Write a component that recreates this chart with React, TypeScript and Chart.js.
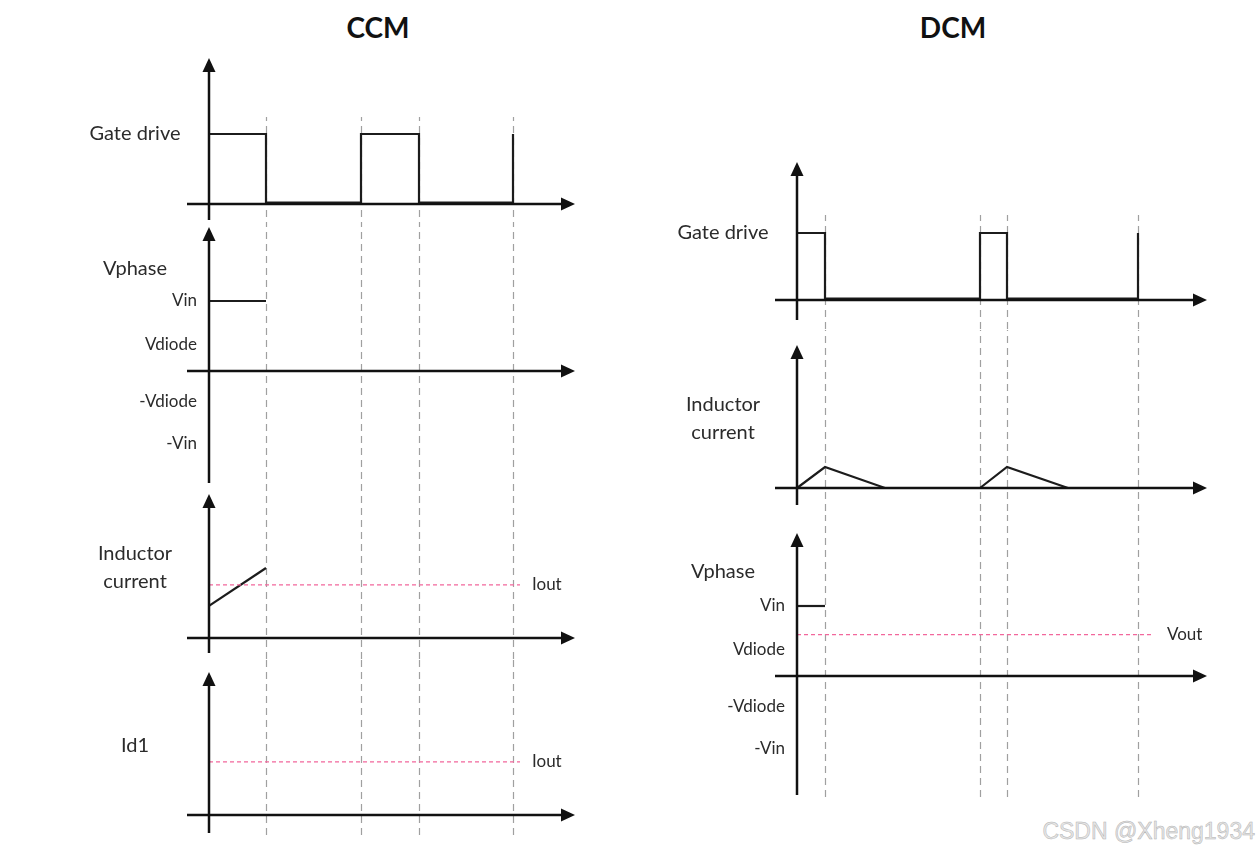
import React, { useEffect, useRef } from "react";
import { Chart, registerables } from "chart.js";

Chart.register(...registerables);

// ---------------- data (time in switching units, levels in signal units) ----------------
const ccmEdges = [0.57, 1.52, 2.1, 3.04];
const dcmEdges = [0.28, 1.83, 2.1, 3.41];

const ccmGateT = [0, 0.57, 0.57, 1.52, 1.52, 2.1, 2.1, 3.04, 3.04];
const ccmGateV = [1, 1, 0.02, 0.02, 1, 1, 0.02, 0.02, 1];
const ccmPhaseT = [0, 0.57];
const ccmPhaseV = [1, 1];
const ccmIndT = [0, 0.57];
const ccmIndV = [0.46, 1.0];
const ccmIoutT = [0, 3.11];
const ccmIoutV = [0.76, 0.76];
const ccmId1IoutT = [0, 3.11];
const ccmId1IoutV = [0.76, 0.76];

const dcmGateT = [0, 0.28, 0.28, 1.83, 1.83, 2.1, 2.1, 3.41, 3.41];
const dcmGateV = [1, 1, 0.02, 0.02, 1, 1, 0.02, 0.02, 1];
const dcmIndT = [0, 0.28, 0.88, 1.83, 2.1, 2.71];
const dcmIndV = [0, 0.3, 0, 0, 0.3, 0];
const dcmPhaseT = [0, 0.28];
const dcmPhaseV = [1, 1];
const dcmVoutT = [0, 3.55];
const dcmVoutV = [0.59, 0.59];

const phaseTickLabels = ["Vin", "Vdiode", "-Vdiode", "-Vin"];
const phaseTickLevels = [1, 0.38, -0.43, -1.03];

// ---------------- styling / layout ----------------
const FONT = "Lato, 'Open Sans', sans-serif";
const PX_PER_T = 100;
const WAVE = "#1c1c1c";
const AXIS = "#111";
const PINK = "#f2679c";

type Series = { t: number[]; v: number[]; kind: "wave" | "ref" };
interface PanelCfg {
  key: string;
  left: number;
  top: number;
  width: number;
  height: number;
  axisPx: number;
  zeroPx: number;
  unitY: number;
  tipPx: number;
  bottomPx: number;
  dashTopPx: number;
  dashBottomPx: number;
  axisFrom: number;
  axisTo: number;
  edges: number[];
  names: string[];
  nameY: number[];
  ticks?: { labels: string[]; levels: number[] };
  tag?: { text: string; x: number; y: number };
  series: Series[];
}

const CCM = { left: 80, width: 520, axisPx: 129, axisFrom: -0.22, axisTo: 3.66 };
const DCM = { left: 660, width: 565, axisPx: 137, axisFrom: -0.22, axisTo: 4.1 };

const panels: PanelCfg[] = [
  {
    key: "ccm-gate", ...CCM, top: 50, height: 174, zeroPx: 154, unitY: 70,
    tipPx: 8, bottomPx: 170, dashTopPx: 67, dashBottomPx: 174, edges: ccmEdges,
    names: ["Gate drive"], nameY: [1.0],
    series: [{ t: ccmGateT, v: ccmGateV, kind: "wave" }],
  },
  {
    key: "ccm-phase", ...CCM, top: 224, height: 264, zeroPx: 147, unitY: 70,
    tipPx: 3, bottomPx: 259, dashTopPx: 0, dashBottomPx: 264, edges: ccmEdges,
    names: ["Vphase"], nameY: [1.47],
    ticks: { labels: phaseTickLabels, levels: phaseTickLevels },
    series: [{ t: ccmPhaseT, v: ccmPhaseV, kind: "wave" }],
  },
  {
    key: "ccm-ind", ...CCM, top: 488, height: 172, zeroPx: 150, unitY: 70,
    tipPx: 6, bottomPx: 165, dashTopPx: 0, dashBottomPx: 172, edges: ccmEdges,
    names: ["Inductor", "current"], nameY: [1.2, 0.8],
    tag: { text: "Iout", x: 3.23, y: 0.76 },
    series: [
      { t: ccmIoutT, v: ccmIoutV, kind: "ref" },
      { t: ccmIndT, v: ccmIndV, kind: "wave" },
    ],
  },
  {
    key: "ccm-id1", ...CCM, top: 660, height: 182, zeroPx: 155, unitY: 70,
    tipPx: 12, bottomPx: 173, dashTopPx: 0, dashBottomPx: 178, edges: ccmEdges,
    names: ["Id1"], nameY: [0.99],
    tag: { text: "Iout", x: 3.23, y: 0.76 },
    series: [{ t: ccmId1IoutT, v: ccmId1IoutV, kind: "ref" }],
  },
  {
    key: "dcm-gate", ...DCM, top: 150, height: 180, zeroPx: 150, unitY: 67,
    tipPx: 12, bottomPx: 170, dashTopPx: 65, dashBottomPx: 180, edges: dcmEdges,
    names: ["Gate drive"], nameY: [1.0],
    series: [{ t: dcmGateT, v: dcmGateV, kind: "wave" }],
  },
  {
    key: "dcm-ind", ...DCM, top: 330, height: 185, zeroPx: 158, unitY: 70,
    tipPx: 15, bottomPx: 175, dashTopPx: 0, dashBottomPx: 185, edges: dcmEdges,
    names: ["Inductor", "current"], nameY: [1.19, 0.79],
    series: [{ t: dcmIndT, v: dcmIndV, kind: "wave" }],
  },
  {
    key: "dcm-phase", ...DCM, top: 515, height: 290, zeroPx: 161, unitY: 70,
    tipPx: 18, bottomPx: 280, dashTopPx: 0, dashBottomPx: 285, edges: dcmEdges,
    names: ["Vphase"], nameY: [1.49],
    ticks: { labels: phaseTickLabels, levels: phaseTickLevels },
    tag: { text: "Vout", x: 3.7, y: 0.59 },
    series: [
      { t: dcmVoutT, v: dcmVoutV, kind: "ref" },
      { t: dcmPhaseT, v: dcmPhaseV, kind: "wave" },
    ],
  },
];

function makeDecor(cfg: PanelCfg) {
  return {
    id: "decor-" + cfg.key,
    beforeDatasetsDraw(chart: any) {
      const { ctx } = chart;
      const x = chart.scales.x;
      ctx.save();
      ctx.strokeStyle = "#a0a0a0";
      ctx.lineWidth = 1.2;
      ctx.setLineDash([7, 5]);
      ctx.lineDashOffset = -(cfg.top + cfg.dashTopPx);
      for (const t of cfg.edges) {
        const px = Math.round(x.getPixelForValue(t)) + 0.5;
        ctx.beginPath();
        ctx.moveTo(px, cfg.dashTopPx);
        ctx.lineTo(px, cfg.dashBottomPx);
        ctx.stroke();
      }
      ctx.restore();
    },
    afterDatasetsDraw(chart: any) {
      const { ctx } = chart;
      const x = chart.scales.x;
      const y = chart.scales.y;
      const x0 = x.getPixelForValue(0);
      const y0 = y.getPixelForValue(0);
      const xl = x.getPixelForValue(cfg.axisFrom);
      const xr = x.getPixelForValue(cfg.axisTo);
      const head = 14;
      const half = 6.5;
      ctx.save();
      ctx.strokeStyle = AXIS;
      ctx.fillStyle = AXIS;
      ctx.lineWidth = 2.5;
      // horizontal axis
      ctx.beginPath();
      ctx.moveTo(xl, y0);
      ctx.lineTo(xr - head + 2, y0);
      ctx.stroke();
      ctx.beginPath();
      ctx.moveTo(xr, y0);
      ctx.lineTo(xr - head, y0 - half);
      ctx.lineTo(xr - head, y0 + half);
      ctx.closePath();
      ctx.fill();
      // vertical axis
      ctx.beginPath();
      ctx.moveTo(x0, cfg.bottomPx);
      ctx.lineTo(x0, cfg.tipPx + head - 2);
      ctx.stroke();
      ctx.beginPath();
      ctx.moveTo(x0, cfg.tipPx);
      ctx.lineTo(x0 - half, cfg.tipPx + head);
      ctx.lineTo(x0 + half, cfg.tipPx + head);
      ctx.closePath();
      ctx.fill();

      // names
      ctx.fillStyle = "#2b2b2b";
      ctx.textBaseline = "middle";
      ctx.textAlign = "center";
      ctx.font = `20px ${FONT}`;
      cfg.names.forEach((n, i) => {
        ctx.fillText(n, x0 - 74, y.getPixelForValue(cfg.nameY[i]));
      });
      // level labels
      if (cfg.ticks) {
        ctx.font = `17px ${FONT}`;
        ctx.textAlign = "right";
        cfg.ticks.labels.forEach((l, i) => {
          ctx.fillText(l, x0 - 12, y.getPixelForValue(cfg.ticks!.levels[i]));
        });
      }
      if (cfg.tag) {
        ctx.font = `17px ${FONT}`;
        ctx.textAlign = "left";
        ctx.fillText(cfg.tag.text, x.getPixelForValue(cfg.tag.x), y.getPixelForValue(cfg.tag.y));
      }
      ctx.restore();
    },
  };
}

function Panel({ cfg }: { cfg: PanelCfg }) {
  const ref = useRef<HTMLCanvasElement>(null);
  useEffect(() => {
    const xMin = -cfg.axisPx / PX_PER_T;
    const xMax = (cfg.width - cfg.axisPx) / PX_PER_T;
    const yMax = cfg.zeroPx / cfg.unitY;
    const yMin = -(cfg.height - cfg.zeroPx) / cfg.unitY;
    const datasets = cfg.series.map((s) => ({
      data: s.t.map((t, i) => ({ x: t, y: s.v[i] })),
      showLine: true,
      borderColor: s.kind === "wave" ? WAVE : PINK,
      borderWidth: s.kind === "wave" ? 2.2 : 1.2,
      borderDash: s.kind === "wave" ? [] : [4, 3],
      pointRadius: 0,
      tension: 0,
      fill: false,
      borderJoinStyle: "miter" as const,
    }));
    const chart = new Chart(ref.current!, {
      type: "scatter",
      data: { datasets },
      options: {
        animation: false,
        responsive: false,
        maintainAspectRatio: false,
        events: [],
        layout: { padding: 0 },
        plugins: { legend: { display: false }, tooltip: { enabled: false }, title: { display: false } },
        scales: {
          x: { type: "linear", min: xMin, max: xMax, display: false },
          y: { type: "linear", min: yMin, max: yMax, display: false },
        },
      },
      plugins: [makeDecor(cfg)],
    });
    return () => chart.destroy();
  }, [cfg]);
  return (
    <canvas
      ref={ref}
      width={cfg.width}
      height={cfg.height}
      style={{ position: "absolute", left: cfg.left, top: cfg.top, width: cfg.width, height: cfg.height }}
    />
  );
}

export default function App() {
  return (
    <div style={{ position: "absolute", left: 0, top: 0, width: 1259, height: 854, background: "#fff", overflow: "hidden" }}>
      <div style={{ position: "absolute", left: 278, top: 8, width: 200, textAlign: "center", font: `bold 28px ${FONT}`, color: "#111", lineHeight: "38px" }}>
        CCM
      </div>
      <div style={{ position: "absolute", left: 853, top: 8, width: 200, textAlign: "center", font: `bold 28px ${FONT}`, color: "#111", lineHeight: "38px" }}>
        DCM
      </div>
      {panels.map((p) => (
        <Panel key={p.key} cfg={p} />
      ))}
      <div style={{ position: "absolute", right: 4, top: 816, font: `23px 'Liberation Sans', Arial, sans-serif`, color: "#e6e6e6", lineHeight: "30px", WebkitTextStroke: "0.5px #b4b4b4" }}>
        CSDN @Xheng1934
      </div>
    </div>
  );
}
